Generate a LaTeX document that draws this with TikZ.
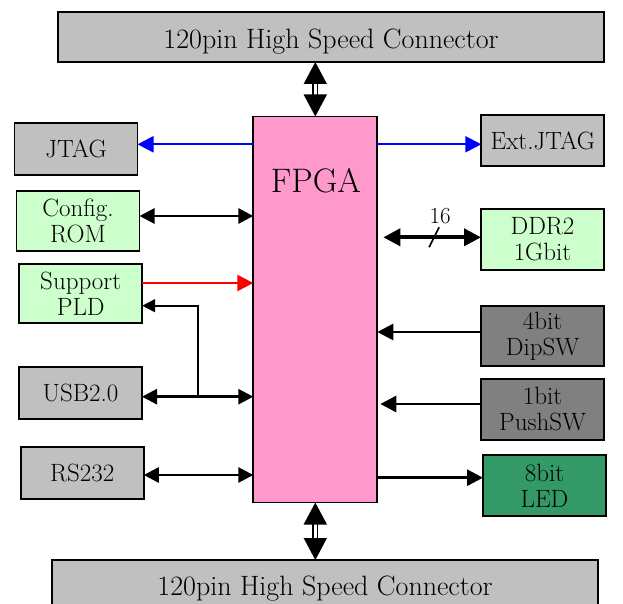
\documentclass[tikz,border=0pt]{standalone}
\usepackage{tikz}
\usetikzlibrary{arrows.meta}
\definecolor{boxGray}{RGB}{192,192,192}
\definecolor{boxGreen}{RGB}{204,255,204}
\definecolor{boxDark}{RGB}{128,128,128}
\definecolor{ledGreen}{RGB}{51,153,102}
\definecolor{fpgaPink}{RGB}{255,153,204}

\begin{document}
\begin{tikzpicture}[x=1pt,y=-1pt,
    blk/.style={draw=black, line width=1.8pt, inner sep=0pt, outer sep=0pt,
      minimum width=123pt, align=center, font=\fontsize{25}{26}\selectfont},
    grayblk/.style={blk, fill=boxGray, minimum height=52pt},
    greenblk/.style={blk, fill=boxGreen, minimum height=60pt},
    darkblk/.style={blk, fill=boxDark, minimum height=60pt},
    conn/.style={draw=black, line width=1.8pt, fill=boxGray, inner sep=0pt, outer sep=0pt,
      minimum width=546pt, text depth=0pt, font=\fontsize{28}{32}\selectfont},
    bus/.style={line width=1.6pt, double, double distance=2.5pt,
      {Triangle[length=22pt,width=23pt]}-{Triangle[length=22pt,width=23pt]}},
    link/.style={line width=2.8pt,
      {Triangle[length=15pt,width=15pt]}-{Triangle[length=15pt,width=15pt]}},
    biglink/.style={line width=3.8pt,
      {Triangle[length=17pt,width=17pt]}-{Triangle[length=17pt,width=17pt]}},
    tolink/.style={line width=2.8pt, -{Triangle[length=16pt,width=16pt]}},
    ]
  \clip (0,0) rectangle (623,604);
  \fill[white] (0,0) rectangle (623,604);

  % connectors and FPGA
  \node[conn, minimum height=50pt, text height=24pt] (conntop) at (331,37) {120pin High Speed Connector};
  \node[conn, minimum height=52pt, text height=18pt] (connbot) at (325,586) {120pin High Speed Connector};
  \node[blk, fill=fpgaPink, minimum width=124pt, minimum height=386pt] (fpga) at (315.3,309.5) {};
  \node[font=\fontsize{34}{38}\selectfont] (fpganame) at (316,181) {FPGA};

  % left side
  \node[grayblk] (jtag) at (76,149) {JTAG};
  \node[greenblk] (cfgrom) at (78,220.7) {Config.\\ROM};
  \node[greenblk, minimum height=59pt] (pld) at (80.7,293.5) {Support\\PLD};
  \node[grayblk] (usb) at (80.5,393) {USB2.0};
  \node[grayblk] (rs) at (82.3,473) {RS232};

  % right side
  \node[grayblk, minimum height=51pt] (extjtag) at (542.8,140.5) {Ext.JTAG};
  \node[greenblk, minimum height=61pt] (ddr) at (542.5,239.5) {DDR2\\1Gbit};
  \node[darkblk] (dipsw) at (542.5,336) {4bit\\DipSW};
  \node[darkblk, minimum height=61pt] (pushsw) at (542.5,409.5) {1bit\\PushSW};
  \node[darkblk, fill=ledGreen, minimum height=61pt] (led) at (544.5,485.5) {8bit\\LED};

  % buses
  \draw[bus] (conntop.south -| fpga.north) -- (fpga.north);
  \draw[bus] (fpga.south) -- (fpga.south |- connbot.north);

  % left links
  \draw[tolink, blue, line width=2.2pt] ([yshift=4.7pt]jtag.east -| fpga.west) -- ([yshift=4.7pt]jtag.east);
  \draw[link] ([yshift=4.7pt]cfgrom.east) -- ([yshift=4.7pt]cfgrom.east -| fpga.west);
  \draw[tolink, red, line width=2.2pt] ([yshift=10.5pt]pld.east) -- ([yshift=10.5pt]pld.east -| fpga.west);
  \draw[link] ([yshift=-3.7pt]usb.east) -- ([yshift=-3.7pt]usb.east -| fpga.west);
  \coordinate (usbtap) at (197.7,396.7);
  \draw[line width=1.8pt, -{Triangle[length=13pt,width=13pt]}] (usbtap) |- ([yshift=-12.2pt]pld.east);
  \draw[link] ([yshift=-2pt]rs.east) -- ([yshift=-2pt]rs.east -| fpga.west);

  % right links
  \draw[tolink, blue, line width=2.2pt] ([yshift=-3.8pt]extjtag.west -| fpga.east) -- ([yshift=-3.8pt]extjtag.west);
  \draw[biglink] ([xshift=6pt,yshift=2.2pt]ddr.west -| fpga.east)
    -- coordinate[pos=0.52] (ddrmark) ([yshift=2.2pt]ddr.west);
  \draw[line width=1.6pt] ([shift={(-5pt,-10pt)}]ddrmark) -- ([shift={(5pt,10pt)}]ddrmark);
  \node[font=\fontsize{23}{26}\selectfont] (ddrwidth) at ([shift={(6pt,21pt)}]ddrmark) {16};
  \draw[tolink] ([yshift=4pt]dipsw.west) -- ([yshift=4pt]dipsw.west -| fpga.east);
  \draw[tolink] ([yshift=5.5pt]pushsw.west) -- ([xshift=3pt,yshift=5.5pt]pushsw.west -| fpga.east);
  \draw[tolink] ([yshift=7.8pt]led.west -| fpga.east) -- ([yshift=7.8pt]led.west);
\end{tikzpicture}
\end{document}
